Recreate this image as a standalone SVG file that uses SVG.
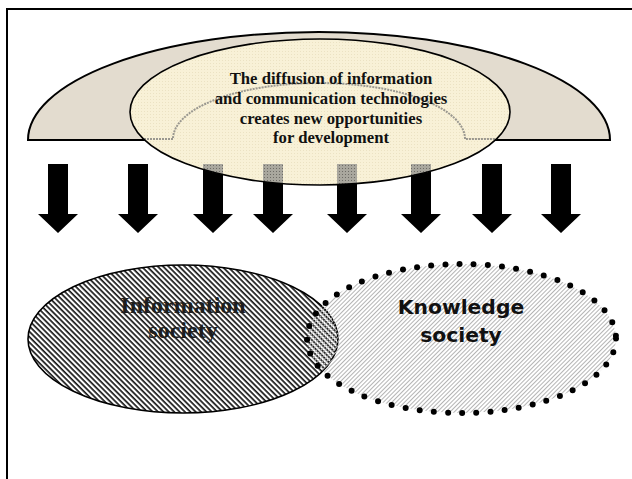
<svg xmlns="http://www.w3.org/2000/svg" width="632" height="479" viewBox="0 0 632 479">
  <style>
    .outline { stroke: #000; stroke-width: 2; }
    .arrow { fill: #000; }
    .arrow-hidden { fill: url(#greyDots); }
    .ict-text { font-family: "Liberation Serif", "Times New Roman", serif; font-weight: bold; font-size: 16.7px; fill: #111; text-anchor: middle; }
    .info-text { font-family: "Liberation Serif", "Times New Roman", serif; font-weight: bold; font-size: 24px; fill: #1e1e1e; text-anchor: middle; }
    .know-text { font-family: "DejaVu Sans", Verdana, sans-serif; font-weight: bold; font-size: 20.3px; fill: #111; text-anchor: middle; }
    .hidden-line { fill: none; stroke: #9a9890; stroke-width: 2; stroke-dasharray: 2 1; }
  </style>
  <defs>
    <pattern id="creamGrid" patternUnits="userSpaceOnUse" width="3" height="3">
      <rect width="3" height="3" fill="#f8f1d7"/>
      <rect width="1" height="1" fill="#ebe2c3"/>
    </pattern>
    <pattern id="greyDots" patternUnits="userSpaceOnUse" width="3" height="3">
      <rect width="3" height="3" fill="#a9a79e"/>
      <rect width="1" height="1" fill="#6e6c66"/>
    </pattern>
    <pattern id="darkHatch" patternUnits="userSpaceOnUse" width="3.8" height="3.8" patternTransform="rotate(45)">
      <rect width="3.8" height="3.8" fill="#ffffff"/>
      <rect y="0" width="3.8" height="1.7" fill="#1a1a1a"/>
    </pattern>
    <pattern id="lightHatch" patternUnits="userSpaceOnUse" width="3" height="3" patternTransform="rotate(45)">
      <rect x="0" y="0" width="1" height="3" fill="#b4b4b4"/>
    </pattern>
    <clipPath id="ictClip">
      <ellipse cx="320" cy="112" rx="190" ry="73"/>
    </clipPath>
  </defs>

  <rect width="632" height="479" fill="#fff"/>

  <g id="frame">
    <path d="M7 479 V9 H632" fill="none" stroke="#000" stroke-width="2"/>
  </g>

  <g id="dome">
    <path class="outline" d="M28 140 A291 108 0 0 1 610 140 Z" fill="#e3dccf"/>
  </g>

  <g id="connectors">
    <polygon class="arrow" points="48,164 68,164 68,214 78,214 58,233 38,214 48,214"/>
    <polygon class="arrow" points="128,164 148,164 148,214 158,214 138,233 118,214 128,214"/>
    <polygon class="arrow" points="203,164 223,164 223,214 233,214 213,233 193,214 203,214"/>
    <polygon class="arrow" points="263,164 283,164 283,214 293,214 273,233 253,214 263,214"/>
    <polygon class="arrow" points="337,164 357,164 357,214 367,214 347,233 327,214 337,214"/>
    <polygon class="arrow" points="411,164 431,164 431,214 441,214 421,233 401,214 411,214"/>
    <polygon class="arrow" points="482,164 502,164 502,214 512,214 492,233 472,214 482,214"/>
    <polygon class="arrow" points="551,164 571,164 571,214 581,214 561,233 541,214 551,214"/>
  </g>

  <g id="node-ict">
    <ellipse cx="320" cy="112" rx="190" ry="73" fill="url(#creamGrid)"/>
    <g clip-path="url(#ictClip)">
      <path class="hidden-line" d="M120 139 H173 A146 56 0 0 1 465 139 H520"/>
      <rect class="arrow-hidden" x="203" y="164" width="20" height="30"/>
      <rect class="arrow-hidden" x="263" y="164" width="20" height="30"/>
      <rect class="arrow-hidden" x="337" y="164" width="20" height="30"/>
      <rect class="arrow-hidden" x="411" y="164" width="20" height="30"/>
    </g>
    <ellipse cx="320" cy="112" rx="190" ry="73" fill="none" stroke="#000" stroke-width="1.6"/>
    <text class="ict-text" x="331" y="84">The diffusion of information</text>
    <text class="ict-text" x="331" y="104">and communication technologies</text>
    <text class="ict-text" x="331" y="124">creates new opportunities</text>
    <text class="ict-text" x="331" y="143">for development</text>
  </g>

  <g id="node-information-society">
    <ellipse cx="183" cy="339" rx="155" ry="74" fill="url(#darkHatch)" stroke="#000" stroke-width="1.6"/>
    <text class="info-text" x="183" y="313">Information</text>
    <text class="info-text" x="183" y="338">society</text>
  </g>

  <g id="node-knowledge-society">
    <ellipse cx="461.5" cy="338.5" rx="154.5" ry="74.5" fill="url(#lightHatch)" stroke="#000" stroke-width="6" stroke-linecap="round" stroke-dasharray="0 14.2"/>
    <text class="know-text" x="461" y="314">Knowledge</text>
    <text class="know-text" x="461" y="342">society</text>
  </g>
</svg>
